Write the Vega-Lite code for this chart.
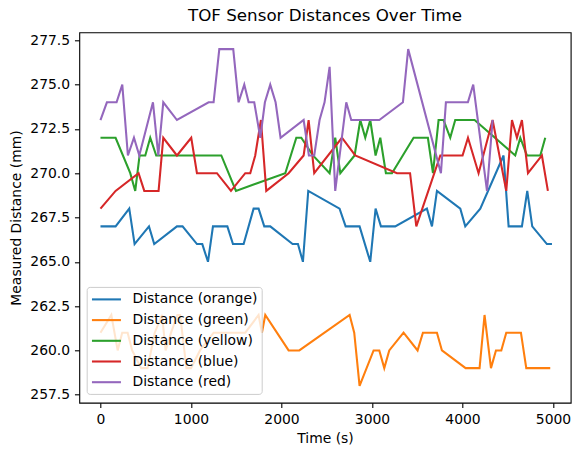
{
  "$schema": "https://vega.github.io/schema/vega-lite/v6.json",
  "autosize": "none",
  "width": 491.4,
  "height": 370.4,
  "padding": {"left": 79.3, "top": 32.3, "right": 13.3, "bottom": 52.3},
  "title": {"text": "TOF Sensor Distances Over Time", "fontSize": 16.7, "fontWeight": "normal", "font": "DejaVu Sans", "color": "black", "offset": 8},
  "config": {
    "font": "DejaVu Sans",
    "view": {"stroke": "black", "strokeWidth": 1.1},
    "axis": {"grid": false, "domain": false, "tickColor": "black", "tickWidth": 1.1, "tickSize": 4.86, "labelPadding": 4.86, "labelFontSize": 13.9, "labelColor": "black", "titleFontSize": 13.9, "titleFontWeight": "normal", "titleColor": "black", "labelFont": "DejaVu Sans", "titleFont": "DejaVu Sans"}
  },
  "data": {"values": [
    {"series":"Distance (orange)","time":0,"distance":267},{"series":"Distance (orange)","time":167,"distance":267},{"series":"Distance (orange)","time":318,"distance":268},{"series":"Distance (orange)","time":377,"distance":266},{"series":"Distance (orange)","time":536,"distance":267},{"series":"Distance (orange)","time":594,"distance":266},{"series":"Distance (orange)","time":845,"distance":267},{"series":"Distance (orange)","time":907,"distance":267},{"series":"Distance (orange)","time":1066,"distance":266},{"series":"Distance (orange)","time":1125,"distance":266},{"series":"Distance (orange)","time":1188,"distance":265},{"series":"Distance (orange)","time":1243,"distance":267},{"series":"Distance (orange)","time":1402,"distance":267},{"series":"Distance (orange)","time":1464,"distance":266},{"series":"Distance (orange)","time":1582,"distance":266},{"series":"Distance (orange)","time":1692,"distance":268},{"series":"Distance (orange)","time":1747,"distance":268},{"series":"Distance (orange)","time":1810,"distance":267},{"series":"Distance (orange)","time":1876,"distance":267},{"series":"Distance (orange)","time":2123,"distance":266},{"series":"Distance (orange)","time":2182,"distance":266},{"series":"Distance (orange)","time":2237,"distance":265},{"series":"Distance (orange)","time":2296,"distance":269},{"series":"Distance (orange)","time":2642,"distance":268},{"series":"Distance (orange)","time":2709,"distance":267},{"series":"Distance (orange)","time":2863,"distance":267},{"series":"Distance (orange)","time":2981,"distance":265},{"series":"Distance (orange)","time":3040,"distance":268},{"series":"Distance (orange)","time":3099,"distance":267},{"series":"Distance (orange)","time":3257,"distance":267},{"series":"Distance (orange)","time":3607,"distance":268},{"series":"Distance (orange)","time":3663,"distance":267},{"series":"Distance (orange)","time":3718,"distance":269},{"series":"Distance (orange)","time":3976,"distance":268},{"series":"Distance (orange)","time":4031,"distance":267},{"series":"Distance (orange)","time":4197,"distance":268},{"series":"Distance (orange)","time":4454,"distance":271},{"series":"Distance (orange)","time":4510,"distance":267},{"series":"Distance (orange)","time":4657,"distance":267},{"series":"Distance (orange)","time":4716,"distance":269},{"series":"Distance (orange)","time":4771,"distance":267},{"series":"Distance (orange)","time":4933,"distance":266},{"series":"Distance (orange)","time":4989,"distance":266},

    {"series":"Distance (green)","time":0,"distance":261},{"series":"Distance (green)","time":120,"distance":262},{"series":"Distance (green)","time":190,"distance":260},{"series":"Distance (green)","time":240,"distance":261},{"series":"Distance (green)","time":300,"distance":261},{"series":"Distance (green)","time":350,"distance":260},{"series":"Distance (green)","time":450,"distance":259},{"series":"Distance (green)","time":520,"distance":259},{"series":"Distance (green)","time":600,"distance":261},{"series":"Distance (green)","time":680,"distance":262},{"series":"Distance (green)","time":720,"distance":260},{"series":"Distance (green)","time":780,"distance":261},{"series":"Distance (green)","time":850,"distance":262},{"series":"Distance (green)","time":880,"distance":262},{"series":"Distance (green)","time":950,"distance":259},{"series":"Distance (green)","time":1000,"distance":259},{"series":"Distance (green)","time":1100,"distance":260},{"series":"Distance (green)","time":1250,"distance":261},{"series":"Distance (green)","time":1500,"distance":261},{"series":"Distance (green)","time":1600,"distance":261},{"series":"Distance (green)","time":1747,"distance":262},{"series":"Distance (green)","time":1784,"distance":261},{"series":"Distance (green)","time":1821,"distance":262},{"series":"Distance (green)","time":2079,"distance":260},{"series":"Distance (green)","time":2197,"distance":260},{"series":"Distance (green)","time":2753,"distance":262},{"series":"Distance (green)","time":2804,"distance":261},{"series":"Distance (green)","time":2863,"distance":258},{"series":"Distance (green)","time":3018,"distance":260},{"series":"Distance (green)","time":3081,"distance":260},{"series":"Distance (green)","time":3136,"distance":259},{"series":"Distance (green)","time":3191,"distance":260},{"series":"Distance (green)","time":3349,"distance":261},{"series":"Distance (green)","time":3504,"distance":260},{"series":"Distance (green)","time":3563,"distance":261},{"series":"Distance (green)","time":3718,"distance":261},{"series":"Distance (green)","time":3773,"distance":260},{"series":"Distance (green)","time":4035,"distance":259},{"series":"Distance (green)","time":4189,"distance":259},{"series":"Distance (green)","time":4244,"distance":262},{"series":"Distance (green)","time":4315,"distance":259},{"series":"Distance (green)","time":4370,"distance":260},{"series":"Distance (green)","time":4429,"distance":260},{"series":"Distance (green)","time":4484,"distance":261},{"series":"Distance (green)","time":4646,"distance":261},{"series":"Distance (green)","time":4705,"distance":259},{"series":"Distance (green)","time":4970,"distance":259},

    {"series":"Distance (yellow)","time":0,"distance":272},{"series":"Distance (yellow)","time":167,"distance":272},{"series":"Distance (yellow)","time":329,"distance":270},{"series":"Distance (yellow)","time":384,"distance":269},{"series":"Distance (yellow)","time":432,"distance":271},{"series":"Distance (yellow)","time":495,"distance":271},{"series":"Distance (yellow)","time":550,"distance":272},{"series":"Distance (yellow)","time":616,"distance":271},{"series":"Distance (yellow)","time":1335,"distance":271},{"series":"Distance (yellow)","time":1497,"distance":269},{"series":"Distance (yellow)","time":2042,"distance":270},{"series":"Distance (yellow)","time":2164,"distance":272},{"series":"Distance (yellow)","time":2219,"distance":272},{"series":"Distance (yellow)","time":2348,"distance":271},{"series":"Distance (yellow)","time":2532,"distance":270},{"series":"Distance (yellow)","time":2594,"distance":272},{"series":"Distance (yellow)","time":2650,"distance":270},{"series":"Distance (yellow)","time":2808,"distance":271},{"series":"Distance (yellow)","time":2871,"distance":273},{"series":"Distance (yellow)","time":2926,"distance":272},{"series":"Distance (yellow)","time":2981,"distance":273},{"series":"Distance (yellow)","time":3040,"distance":271},{"series":"Distance (yellow)","time":3092,"distance":272},{"series":"Distance (yellow)","time":3154,"distance":270},{"series":"Distance (yellow)","time":3221,"distance":270},{"series":"Distance (yellow)","time":3460,"distance":272},{"series":"Distance (yellow)","time":3618,"distance":272},{"series":"Distance (yellow)","time":3674,"distance":270},{"series":"Distance (yellow)","time":3736,"distance":273},{"series":"Distance (yellow)","time":3791,"distance":273},{"series":"Distance (yellow)","time":3865,"distance":272},{"series":"Distance (yellow)","time":3920,"distance":273},{"series":"Distance (yellow)","time":4134,"distance":273},{"series":"Distance (yellow)","time":4583,"distance":271},{"series":"Distance (yellow)","time":4639,"distance":272},{"series":"Distance (yellow)","time":4712,"distance":271},{"series":"Distance (yellow)","time":4860,"distance":271},{"series":"Distance (yellow)","time":4915,"distance":272},

    {"series":"Distance (blue)","time":0,"distance":268},{"series":"Distance (blue)","time":167,"distance":269},{"series":"Distance (blue)","time":421,"distance":270},{"series":"Distance (blue)","time":484,"distance":269},{"series":"Distance (blue)","time":642,"distance":269},{"series":"Distance (blue)","time":694,"distance":272},{"series":"Distance (blue)","time":845,"distance":271},{"series":"Distance (blue)","time":1003,"distance":272},{"series":"Distance (blue)","time":1066,"distance":270},{"series":"Distance (blue)","time":1287,"distance":270},{"series":"Distance (blue)","time":1442,"distance":269},{"series":"Distance (blue)","time":1600,"distance":270},{"series":"Distance (blue)","time":1655,"distance":270},{"series":"Distance (blue)","time":1710,"distance":271},{"series":"Distance (blue)","time":1773,"distance":273},{"series":"Distance (blue)","time":1832,"distance":269},{"series":"Distance (blue)","time":2079,"distance":270},{"series":"Distance (blue)","time":2245,"distance":271},{"series":"Distance (blue)","time":2300,"distance":273},{"series":"Distance (blue)","time":2362,"distance":270},{"series":"Distance (blue)","time":2668,"distance":272},{"series":"Distance (blue)","time":2815,"distance":271},{"series":"Distance (blue)","time":3276,"distance":270},{"series":"Distance (blue)","time":3421,"distance":270},{"series":"Distance (blue)","time":3490,"distance":267},{"series":"Distance (blue)","time":3755,"distance":271},{"series":"Distance (blue)","time":4001,"distance":271},{"series":"Distance (blue)","time":4061,"distance":272},{"series":"Distance (blue)","time":4178,"distance":270},{"series":"Distance (blue)","time":4333,"distance":273},{"series":"Distance (blue)","time":4484,"distance":269},{"series":"Distance (blue)","time":4547,"distance":273},{"series":"Distance (blue)","time":4602,"distance":272},{"series":"Distance (blue)","time":4657,"distance":273},{"series":"Distance (blue)","time":4724,"distance":270},{"series":"Distance (blue)","time":4878,"distance":271},{"series":"Distance (blue)","time":4944,"distance":269},

    {"series":"Distance (red)","time":0,"distance":273},{"series":"Distance (red)","time":71,"distance":274},{"series":"Distance (red)","time":178,"distance":274},{"series":"Distance (red)","time":241,"distance":275},{"series":"Distance (red)","time":303,"distance":271},{"series":"Distance (red)","time":370,"distance":272},{"series":"Distance (red)","time":429,"distance":271},{"series":"Distance (red)","time":580,"distance":274},{"series":"Distance (red)","time":639,"distance":271},{"series":"Distance (red)","time":694,"distance":274},{"series":"Distance (red)","time":845,"distance":273},{"series":"Distance (red)","time":1195,"distance":274},{"series":"Distance (red)","time":1250,"distance":274},{"series":"Distance (red)","time":1313,"distance":277},{"series":"Distance (red)","time":1467,"distance":277},{"series":"Distance (red)","time":1526,"distance":274},{"series":"Distance (red)","time":1589,"distance":275},{"series":"Distance (red)","time":1637,"distance":274},{"series":"Distance (red)","time":1699,"distance":274},{"series":"Distance (red)","time":1766,"distance":272},{"series":"Distance (red)","time":1817,"distance":274},{"series":"Distance (red)","time":1876,"distance":275},{"series":"Distance (red)","time":1935,"distance":274},{"series":"Distance (red)","time":1990,"distance":272},{"series":"Distance (red)","time":2245,"distance":273},{"series":"Distance (red)","time":2303,"distance":271},{"series":"Distance (red)","time":2362,"distance":271},{"series":"Distance (red)","time":2421,"distance":273},{"series":"Distance (red)","time":2476,"distance":274},{"series":"Distance (red)","time":2532,"distance":276},{"series":"Distance (red)","time":2594,"distance":269},{"series":"Distance (red)","time":2716,"distance":274},{"series":"Distance (red)","time":2771,"distance":273},{"series":"Distance (red)","time":3081,"distance":273},{"series":"Distance (red)","time":3342,"distance":274},{"series":"Distance (red)","time":3400,"distance":277},{"series":"Distance (red)","time":3762,"distance":270},{"series":"Distance (red)","time":3817,"distance":274},{"series":"Distance (red)","time":4060,"distance":274},{"series":"Distance (red)","time":4119,"distance":275},{"series":"Distance (red)","time":4271,"distance":269},{"series":"Distance (red)","time":4333,"distance":273}
  ]},
  "mark": {"type": "line", "strokeWidth": 2.08, "clip": true},
  "encoding": {
    "x": {"field": "time", "type": "quantitative", "title": "Time (s)",
      "scale": {"domain": [-234, 5196], "nice": false, "zero": false},
      "axis": {"values": [0, 1000, 2000, 3000, 4000, 5000], "format": "d", "titlePadding": 5}},
    "y": {"field": "distance", "type": "quantitative", "title": "Measured Distance (mm)",
      "scale": {"domain": [257.05, 277.95], "nice": false, "zero": false},
      "axis": {"values": [257.5, 260, 262.5, 265, 267.5, 270, 272.5, 275, 277.5], "format": ".1f", "titlePadding": 6}},
    "color": {"field": "series", "type": "nominal",
      "scale": {"domain": ["Distance (orange)", "Distance (green)", "Distance (yellow)", "Distance (blue)", "Distance (red)"],
        "range": ["#1f77b4", "#ff7f0e", "#2ca02c", "#d62728", "#9467bd"]},
      "legend": {"title": null, "orient": "none", "legendX": 7.4, "legendY": 254.6,
        "symbolType": "M-1,0H3", "symbolSize": 210, "symbolStrokeWidth": 2.08,
        "labelFontSize": 13.9, "labelFont": "DejaVu Sans", "labelColor": "black", "labelOffset": 24.8,
        "rowPadding": 4.7, "padding": 4, "fillColor": "rgba(255,255,255,0.8)", "strokeColor": "#cccccc", "cornerRadius": 3}}
  }
}
